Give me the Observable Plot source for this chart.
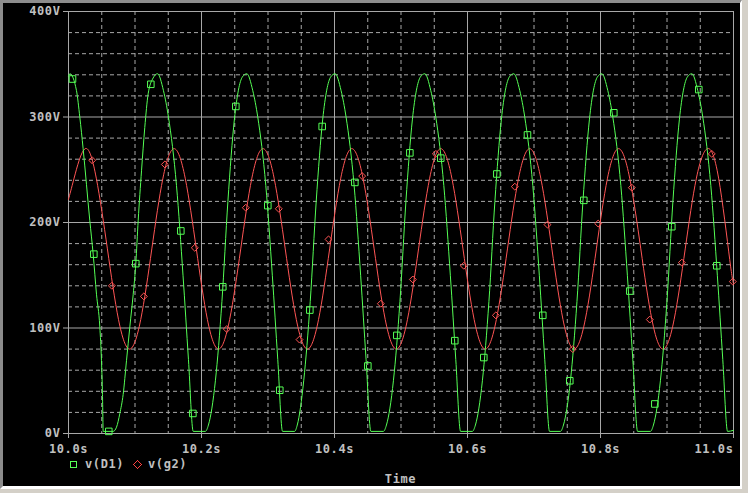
<!DOCTYPE html>
<html><head><meta charset="utf-8">
<script src="https://cdn.jsdelivr.net/npm/d3@7"></script>
<script src="https://cdn.jsdelivr.net/npm/@observablehq/plot@0.6"></script>
<style>
html,body{margin:0;padding:0;}
body{width:748px;height:493px;background:#d4d0c8;position:relative;overflow:hidden;font-family:"DejaVu Sans Mono",monospace;font-weight:bold;}
#frame{position:absolute;left:0;top:0;width:742px;height:489px;box-sizing:border-box;background:#000;border-left:3px solid #8c8c8c;border-top:3px solid #8c8c8c;border-right:2px solid #fff;border-bottom:3px solid #fff;}
#chart{position:absolute;left:0;top:0;}
.lg{position:absolute;color:#c0c0c0;font-size:12px;line-height:12px;letter-spacing:0.6px;white-space:nowrap;}
</style></head><body>
<div id="frame"></div>
<div id="chart"></div>
<div class="lg" style="left:70px;top:461px;width:7px;height:7px;box-sizing:border-box;border:1px solid #55ff55;"></div>
<div class="lg" style="left:85px;top:458px;">v(D1)</div>
<svg style="position:absolute;left:133px;top:460px;z-index:5" width="9" height="9"><polygon points="4.5,0.5 8.5,4.5 4.5,8.5 0.5,4.5" style="fill:none;stroke:#ff4040;stroke-width:1.2px" shape-rendering="crispEdges"/></svg>
<div class="lg" style="left:148px;top:458px;">v(g2)</div>
<div class="lg" style="left:400.5px;top:472.5px;transform:translateX(-50%);">Time</div>
<script>
// Tick values
const xMajor = [10, 10.2, 10.4, 10.6, 10.8, 11];
const xMinor = [10.05,10.1,10.15,10.25,10.3,10.35,10.45,10.5,10.55,10.65,10.7,10.75,10.85,10.9,10.95];
const yMajor = [0, 100, 200, 300, 400];
const yMinor = [20,40,60,80,120,140,160,180,220,240,260,280,320,340,360,380];

// v(D1) trace (time s, volts)
const greenTime = [
 10.0000,10.0020,10.0120,10.0170,10.0220,10.0320,10.0371,10.0421,10.0471,10.0496,10.0511,10.0522,
 10.0672,10.0722,10.0772,10.0822,10.0872,10.0922,10.0973,10.1012,10.1048,10.1098,10.1147,10.1198,10.1273,
 10.1338,10.1428,10.1503,10.1624,10.1722,10.1804,10.1876,
 10.2058,10.2104,10.2209,10.2307,10.2397,10.2495,10.2615,
 10.2681,10.2771,10.2846,10.2967,10.3065,10.3147,10.3219,
 10.3400,10.3440,10.3537,10.3635,10.3725,10.3823,10.3943,
 10.4009,10.4099,10.4174,10.4295,10.4393,10.4475,10.4547,
 10.4735,10.4781,10.4886,10.4984,10.5074,10.5172,10.5292,
 10.5358,10.5448,10.5523,10.5644,10.5742,10.5824,10.5896,
 10.6073,10.6119,10.6224,10.6322,10.6412,10.6510,10.6630,
 10.6696,10.6786,10.6861,10.6982,10.7080,10.7162,10.7234,
 10.7397,10.7443,10.7548,10.7646,10.7736,10.7834,10.7954,
 10.8020,10.8110,10.8185,10.8306,10.8404,10.8486,10.8558,
 10.8750,10.8796,10.8901,10.8999,10.9089,10.9187,10.9307,
 10.9373,10.9463,10.9538,10.9659,10.9757,10.9839,10.9911,
 11.0000
];
const greenVolt = [
 339,341,325,300,270,202,170,132,101,69,37,2,
 2,6,19,37,69,101,132,161,202,249,290,322,337,
 341,325,300,235,150,70,2,
 2,8,50,125,220,298,338,
 341,325,300,235,150,70,2,
 2,8,50,125,220,298,338,
 341,325,300,235,150,70,2,
 2,8,50,125,220,298,338,
 341,325,300,235,150,70,2,
 2,8,50,125,220,298,338,
 341,325,300,235,150,70,2,
 2,8,50,125,220,298,338,
 341,325,300,235,150,70,2,
 2,8,50,125,220,298,338,
 341,325,300,235,150,70,2,
 3
];

// v(g2) trace (time s, volts)
const redTime = [
 10.0000,10.0084,10.0251,10.0418,10.0585,10.0752,10.0919,10.1086,10.1253,10.1420,
 10.1588,10.1755,10.1922,10.2089,10.2256,10.2423,10.2590,10.2757,10.2925,10.3092,
 10.3259,10.3426,10.3593,10.3760,10.3927,10.4094,10.4261,10.4429,10.4596,10.4763,
 10.4930,10.5097,10.5264,10.5431,10.5598,10.5765,10.5932,10.6100,10.6267,10.6434,
 10.6601,10.6768,10.6935,10.7102,10.7269,10.7436,10.7603,10.7771,10.7938,10.8105,
 10.8272,10.8439,10.8606,10.8773,10.8940,10.9107,10.9274,10.9442,10.9609,10.9776,
 10.9943,11.0000
];
const redVolt = [
 222,242,270,242,175,108,80,108,175,242,
 270,242,175,108,80,108,175,242,270,242,
 175,108,80,108,175,242,270,242,175,108,
 80,108,175,242,270,242,175,108,80,108,
 175,242,270,242,175,108,80,108,175,242,
 270,242,175,108,80,108,175,242,270,242,
 165,142
];

// marker symbols
const greenMarkTime = [10.0060,10.0381,10.0606,10.1012,10.1238,10.1689,10.1870,10.2320,10.2516,10.2997,10.3177,10.3629,10.3815,
 10.4306,10.4501,10.4937,10.5133,10.5598,10.5809,10.6245,10.6441,10.6902,10.7132,10.7538,10.7749,10.8200,10.8441,10.8817,10.9072,10.9478,10.9749];
const greenMarkVolt = [336,170,2,161,331,192,19,139,310,216,41,117,291,
 238,64,93,266,261,88,72,246,283,112,50,221,304,135,28,196,326,159];
const redMarkTime = [10.0356,10.0652,10.1133,10.1449,10.1899,10.2380,10.2666,10.3162,10.3474,10.3910,10.4416,10.4697,10.5178,
 10.5524,10.5944,10.6426,10.6711,10.7203,10.7583,10.7965,10.8471,10.8741,10.9223,10.9674,10.9989];
const redMarkVolt = [259,140,130,255,176,99,214,213,89,184,244,123,146,265,159,112,234,198,80,199,233,108,162,265,144];

const green = greenTime.map((t,i)=>({t, v: greenVolt[i]}));
const red = redTime.map((t,i)=>({t, v: redVolt[i]}));
const greenMarks = greenMarkTime.map((t,i)=>({t, v: greenMarkVolt[i]}));
const redMarks = redMarkTime.map((t,i)=>({t, v: redMarkVolt[i]}));

const gridGray = "#a8a8a8";
const gColor = "#55ff55", rColor = "#ff5555";
const fmtX = d => d.toFixed(1) + "s";

const chart = Plot.plot({
  width: 748, height: 493,
  marginLeft: 68, marginRight: 15, marginTop: 11, marginBottom: 60,
  style: {background: "transparent", color: "#c0c0c0", fontFamily: "'DejaVu Sans Mono', monospace", fontSize: "12px", fontWeight: "bold", letterSpacing: "0.6px"},
  x: {domain: [10, 11]},
  y: {domain: [0, 400]},
  marks: [
    Plot.gridX(xMinor, {stroke: gridGray, strokeOpacity: 1, strokeDasharray: "4,3"}),
    Plot.gridY(yMinor, {stroke: gridGray, strokeOpacity: 1, strokeDasharray: "4,3"}),
    Plot.gridX(xMajor, {stroke: gridGray, strokeOpacity: 1}),
    Plot.gridY(yMajor, {stroke: gridGray, strokeOpacity: 1}),
    Plot.axisY(yMajor, {tickSize: 5, tickPadding: 3, tickFormat: d => d + "V", label: null, stroke: gridGray}),
    Plot.axisX(xMajor.slice(0, -1), {tickSize: 5, tickPadding: 6, tickFormat: fmtX, label: null, stroke: gridGray}),
    Plot.axisX(xMajor.slice(-1), {tickSize: 5, tickPadding: 6, tickFormat: fmtX, label: null, stroke: gridGray, textAnchor: "end"}),
    Plot.line(red, {x: "t", y: "v", stroke: rColor, strokeWidth: 1, curve: "natural"}),
    Plot.line(green, {x: "t", y: "v", stroke: gColor, strokeWidth: 1, curve: "monotone-x"}),
    Plot.dot(redMarks, {x: "t", y: "v", symbol: "diamond2", r: 3.1, stroke: rColor, fill: "none", strokeWidth: 1}),
    Plot.dot(greenMarks, {x: "t", y: "v", symbol: "square", r: 3.7, stroke: gColor, fill: "none", strokeWidth: 1})
  ]
});
document.getElementById("chart").appendChild(chart);
</script>
</body></html>
